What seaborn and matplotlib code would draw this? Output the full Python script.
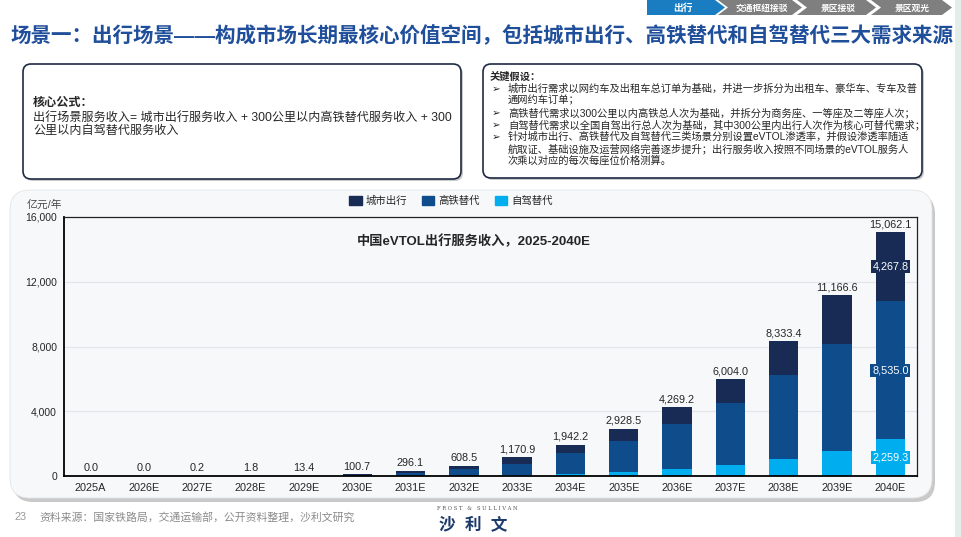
import numpy as np
import pandas as pd
import seaborn as sns
import matplotlib
matplotlib.use('Agg')
from matplotlib import pyplot as plt
from matplotlib.patches import FancyBboxPatch, Polygon, Patch, Rectangle
from matplotlib.ticker import FuncFormatter

# data (亿元/年)
years = ['2025A', '2026E', '2027E', '2028E', '2029E', '2030E', '2031E', '2032E',
         '2033E', '2034E', '2035E', '2036E', '2037E', '2038E', '2039E', '2040E']
city_rev = [0.0, 0.0, 0.1, 0.8, 5.0, 35.0, 95.0, 190.0,
            405.0, 534.0, 773.0, 1058.0, 1488.0, 2122.0, 2987.0, 4267.8]
rail_rev = [0.0, 0.0, 0.1, 1.0, 8.0, 62.0, 190.0, 390.0,
            696.0, 1263.0, 1905.0, 2776.0, 3836.0, 5155.0, 6610.0, 8535.0]
drive_rev = [0.0, 0.0, 0.0, 0.0, 0.4, 3.7, 11.1, 28.5,
             69.9, 145.2, 250.5, 435.2, 680.0, 1056.4, 1569.6, 2259.3]
series_names = ['城市出行', '高铁替代', '自驾替代']
y_ticks = [0, 4000, 8000, 12000, 16000]

C_CITY = '#172B55'
C_RAIL = '#0F4C8C'
C_DRIVE = '#00AEEF'

sns.set_style('white')
plt.rcParams['font.family'] = ['Liberation Sans', 'Noto Sans CJK SC', 'DejaVu Sans']

df = pd.DataFrame({'year': years, 'city': city_rev, 'rail': rail_rev, 'drive': drive_rev})
df['mid'] = df['rail'] + df['drive']
df['top'] = df['city'] + df['mid']

W, H = 962, 537
fig = plt.figure(figsize=(W / 100, H / 100), dpi=100)
fig.patch.set_facecolor('white')

# background layer in pixel coordinates
bg = fig.add_axes([0, 0, 1, 1], zorder=0)
bg.set_xlim(0, W)
bg.set_ylim(H, 0)
bg.axis('off')

bg.add_patch(Rectangle((955, 0), 7, H, color='#E4EEE9', lw=0))

# nav chevrons
def chevron(x0, x1, notch, color):
    pts = [(x0, 0), (x1 - 10, 0), (x1, 7.5), (x1 - 10, 15), (x0, 15)]
    if notch:
        pts.append((x0 + 10, 7.5))
    bg.add_patch(Polygon(pts, closed=True, fc=color, ec='none'))

chevron(647, 725, False, '#1A7CC1')
chevron(718, 802, True, '#7F7F7F')
chevron(797, 876, True, '#7F7F7F')
chevron(871, 952, True, '#7F7F7F')
bg.text(683, 8, '出行', color='white', fontsize=7, fontweight='bold', ha='center', va='center')
for x, s in [(762, '交通枢纽接驳'), (838, '景区接驳'), (912, '景区观光')]:
    bg.text(x, 8, s, color='white', fontsize=6.3, fontweight='bold', ha='center', va='center')

bg.text(10, 36, '场景一：出行场景——构成市场长期最核心价值空间，包括城市出行、高铁替代和自驾替代三大需求来源',
        fontsize=14.8, fontweight='bold', color='#1F4E9A', ha='left', va='center')

# top boxes
def box(x, y, w, h, r, fc, ec, lw, shadow):
    bg.add_patch(FancyBboxPatch((x + shadow[0], y + shadow[1]), w, h,
                                boxstyle=f'round,pad=0,rounding_size={r}',
                                fc='#BFBFBF', ec='none', alpha=0.8))
    bg.add_patch(FancyBboxPatch((x, y), w, h, boxstyle=f'round,pad=0,rounding_size={r}',
                                fc=fc, ec=ec, lw=lw))

box(23, 64, 438, 115, 8, 'white', '#1E2A44', 1.2, (2, 2))
box(483, 64, 439, 114, 8, 'white', '#1E2A44', 1.2, (2, 2))

bg.text(33, 103, '核心公式：', fontsize=8.7, fontweight='bold', va='center')
bg.text(33, 117.5, '出行场景服务收入= 城市出行服务收入 + 300公里以内高铁替代服务收入 + 300',
        fontsize=8.7, va='center')
bg.text(33, 131, '公里以内自驾替代服务收入', fontsize=8.7, va='center')

bg.text(490, 77, '关键假设：', fontsize=7.4, fontweight='bold', va='center')
assumptions = [
    (True, '城市出行需求以网约车及出租车总订单为基础，并进一步拆分为出租车、豪华车、专车及普'),
    (False, '通网约车订单；'),
    (True, '高铁替代需求以300公里以内高铁总人次为基础，并拆分为商务座、一等座及二等座人次；'),
    (True, '自驾替代需求以全国自驾出行总人次为基础，其中300公里内出行人次作为核心可替代需求；'),
    (True, '针对城市出行、高铁替代及自驾替代三类场景分别设置eVTOL渗透率，并假设渗透率随适'),
    (False, '航取证、基础设施及运营网络完善逐步提升；出行服务收入按照不同场景的eVTOL服务人'),
    (False, '次乘以对应的每次每座位价格测算。'),
]
for k, (bullet, line) in enumerate(assumptions):
    yy = 88.5 + k * 12
    if bullet:
        bg.text(492, yy, '➢', fontsize=7.5, va='center', family=['DejaVu Sans'])
    bg.text(508, yy, line, fontsize=7.4, va='center')

# chart panel
bg.add_patch(FancyBboxPatch((13, 194), 922, 308, boxstyle='round,pad=0,rounding_size=20',
                            fc='#C9C9C9', ec='none'))
bg.add_patch(FancyBboxPatch((10, 190), 922, 308, boxstyle='round,pad=0,rounding_size=20',
                            fc='#F6F8FA', ec='#E2E5EA', lw=0.6))
bg.text(27, 205, '亿元/年', fontsize=7.8, color='#4A4A4A', va='center')
bg.text(474, 241, '中国eVTOL出行服务收入，2025-2040E', fontsize=9.5, fontweight='bold',
        ha='center', va='center')

# footer
bg.text(15, 517, '23', fontsize=7.8, color='#9A9A9A', va='center')
bg.text(39, 517, '资料来源：国家铁路局，交通运输部，公开资料整理，沙利文研究',
        fontsize=7.8, color='#8A8A8A', va='center')
bg.text(477, 509, 'F R O S T   &   S U L L I V A N', fontsize=3.8, color='#555555',
        ha='center', va='center', family=['DejaVu Serif'])
bg.text(473, 524, '沙  利  文', fontsize=12, fontweight='bold', color='#1B3A6B',
        ha='center', va='center')

# stacked bars
ax = fig.add_axes([64 / W, 1 - 476 / H, 853 / W, (476 - 217) / H], zorder=2)
ax.set_facecolor('none')
sns.barplot(data=df, x='year', y='top', color=C_CITY, width=0.55, saturation=1,
            errorbar=None, linewidth=0, ax=ax)
sns.barplot(data=df, x='year', y='mid', color=C_RAIL, width=0.55, saturation=1,
            errorbar=None, linewidth=0, ax=ax)
sns.barplot(data=df, x='year', y='drive', color=C_DRIVE, width=0.55, saturation=1,
            errorbar=None, linewidth=0, ax=ax)

ax.set_ylim(0, 16000)
ax.set_yticks(y_ticks)
ax.yaxis.set_major_formatter(FuncFormatter(lambda v, p: f'{v:,.0f}'))
ax.set_xlabel('')
ax.set_ylabel('')
ax.tick_params(axis='x', length=0, pad=5, labelsize=7.8)
ax.tick_params(axis='y', length=3, width=0.8, direction='out', pad=2, labelsize=7.5)
for g in y_ticks[1:-1]:
    ax.axhline(g, color='#E3E5E8', lw=0.8, zorder=0)
for side in ['left', 'bottom']:
    ax.spines[side].set_color('black')
    ax.spines[side].set_linewidth(1.3)
for side in ['top', 'right']:
    ax.spines[side].set_visible(True)
    ax.spines[side].set_color('#222222')
    ax.spines[side].set_linewidth(0.9)

for i, v in enumerate(df['top']):
    ax.annotate(f'{v:,.1f}', (i, v), xytext=(0, 2), textcoords='offset points',
                ha='center', va='bottom', fontsize=7.8)

last = len(years) - 1
inner = [((df['mid'][last] + df['top'][last]) / 2, city_rev[last], C_CITY),
         ((df['drive'][last] + df['mid'][last]) / 2, rail_rev[last], C_RAIL),
         (df['drive'][last] / 2, drive_rev[last], C_DRIVE)]
for yy, v, c in inner:
    ax.text(last, yy, f'{v:,.1f}', color='white', fontsize=7.8, ha='center', va='center',
            bbox=dict(boxstyle='square,pad=0.15', fc=c, ec='none'))

handles = [Patch(color=c) for c in [C_CITY, C_RAIL, C_DRIVE]]
fig.legend(handles, series_names, loc='center', bbox_to_anchor=(451 / W, 1 - 201 / H),
           ncol=3, frameon=False, fontsize=7.5, handlelength=1.2, handleheight=0.9,
           handletextpad=0.4, columnspacing=1.4)

fig.savefig('out.png', dpi=100)
